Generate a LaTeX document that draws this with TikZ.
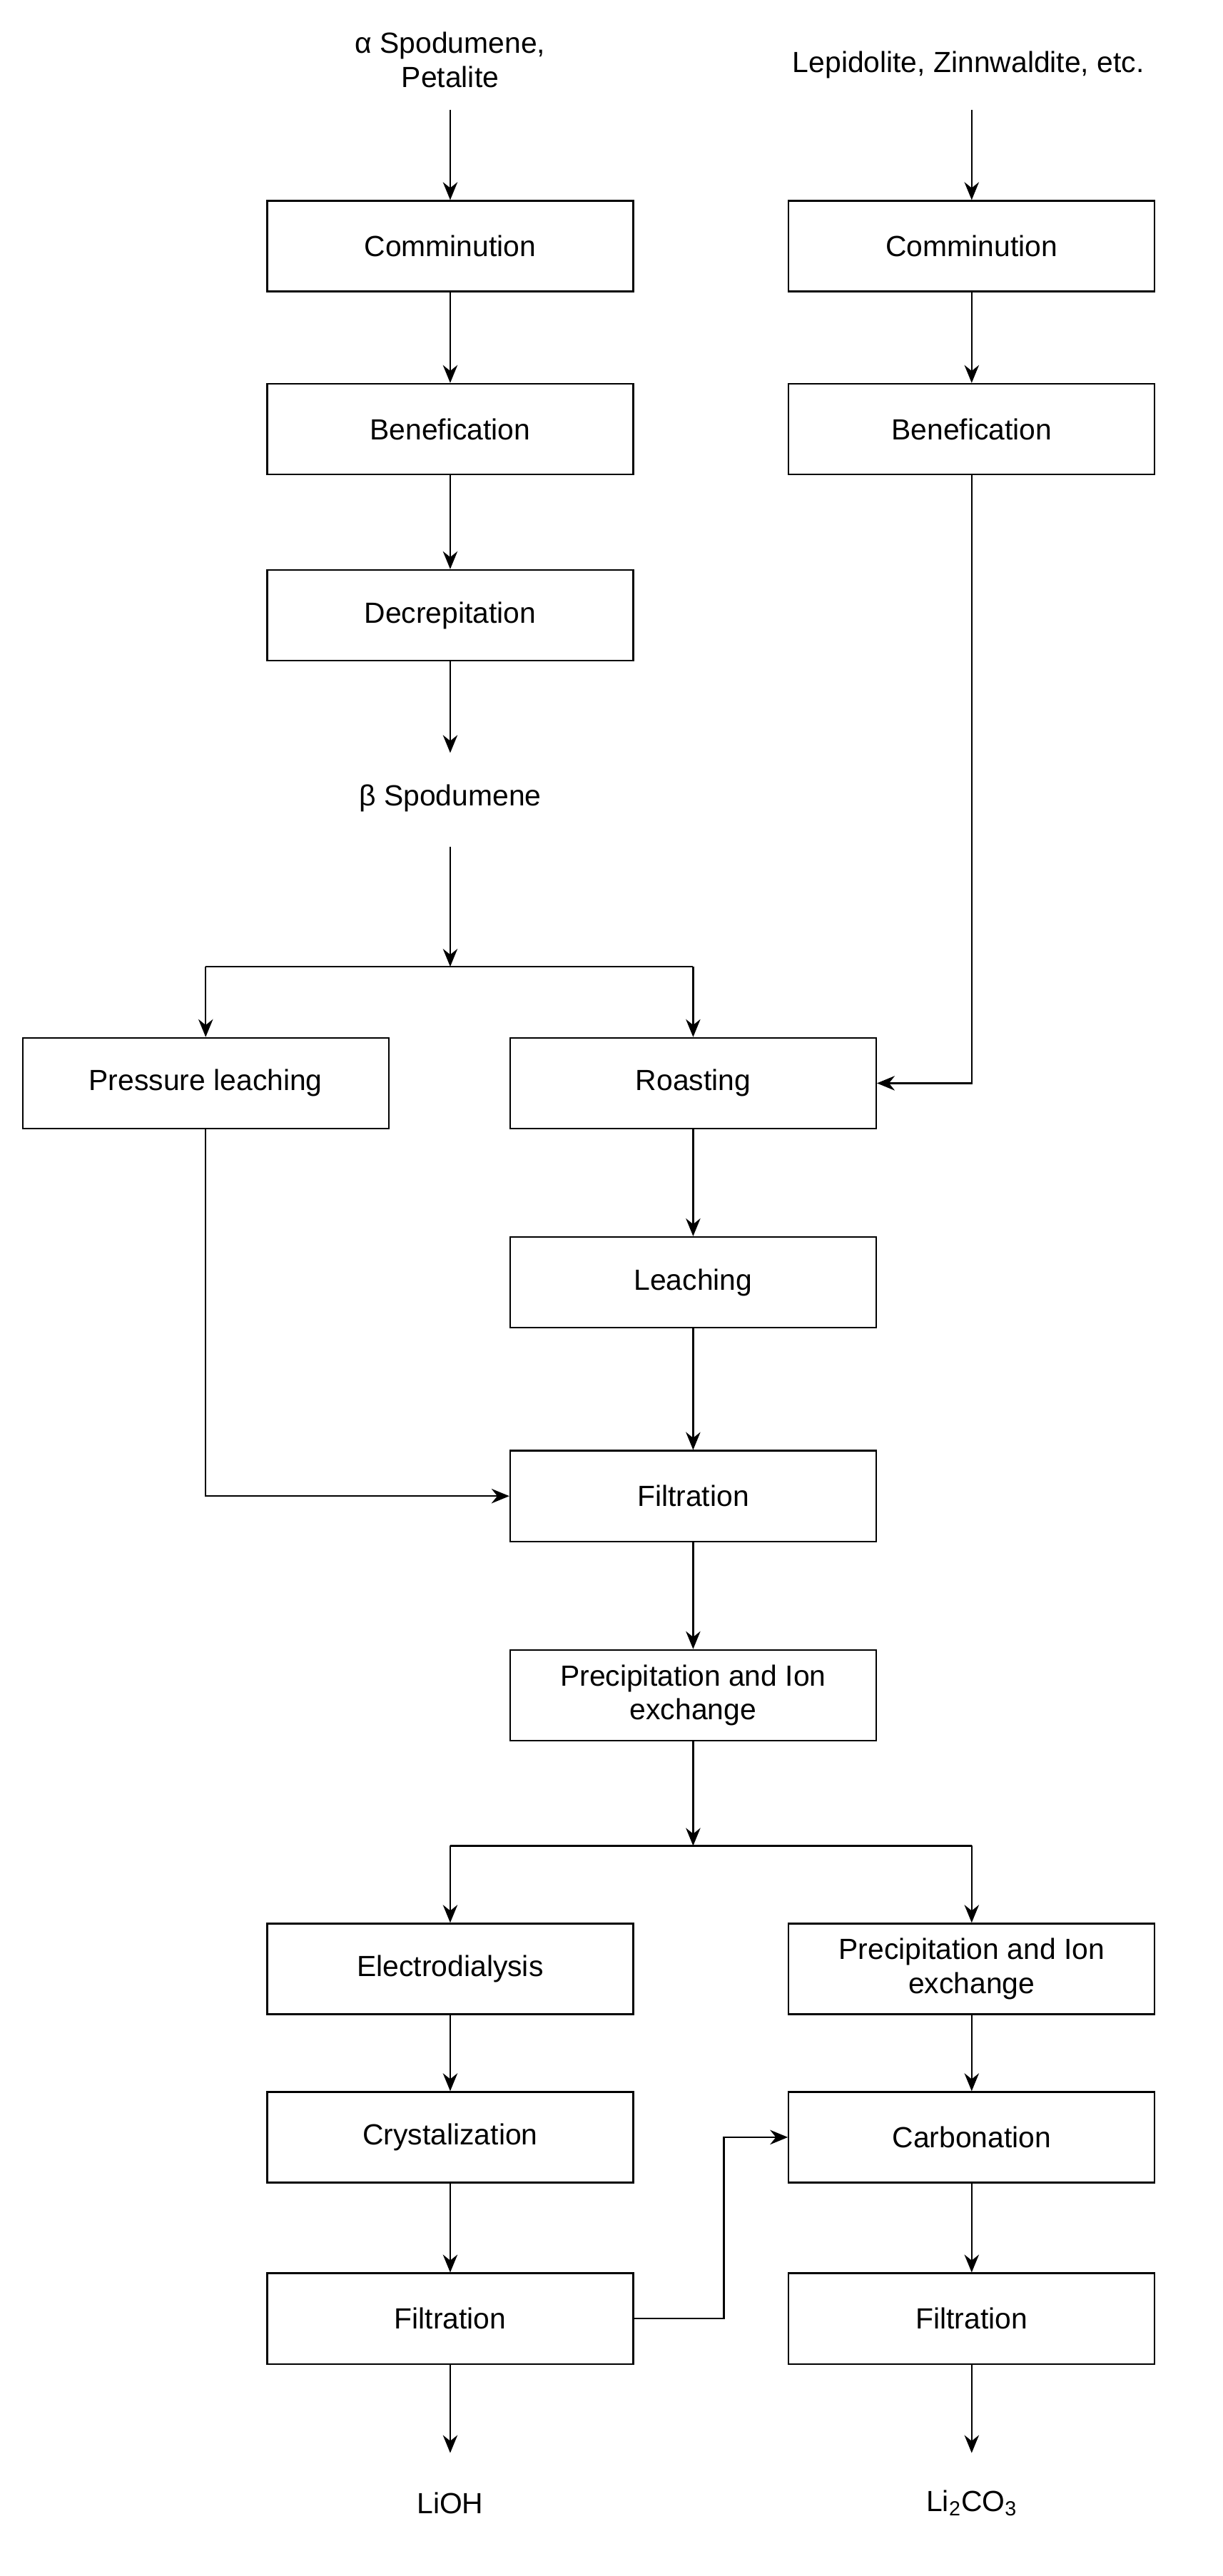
\documentclass[tikz,border=0pt]{standalone}
\usepackage{fontspec}
\setmainfont{Liberation Sans}
\usetikzlibrary{arrows.meta}
\begin{document}
\begin{tikzpicture}[x=1pt,y=-1pt,
 box/.style={draw,line width=1pt,minimum width=226pt,minimum height=56pt,font=\fontsize{18}{21}\selectfont,align=center,inner sep=2pt},
 lbl/.style={font=\fontsize{18}{21}\selectfont,align=center},
 ar/.style={-{Stealth[length=11pt,width=9pt]},line width=1pt}]
\useasboundingbox (0,0) rectangle (755,1591);
\node[lbl] (a) at (278,37) {α Spodumene,\\Petalite};
\node[lbl] (b) at (598,40) {Lepidolite, Zinnwaldite, etc.};
\node[box] (c1) at (278,152) {Comminution};
\node[box] (b1) at (278,265) {Benefication};
\node[box] (d1) at (278,380) {Decrepitation};
\node[box] (c2) at (600,152) {Comminution};
\node[box] (b2) at (600,265) {Benefication};
\node[lbl] (bs) at (278,493) {β Spodumene};
\coordinate (j1) at (278,597);
\node[box] (pl) at (127,669) {Pressure leaching};
\node[box] (ro) at (428,669) {Roasting};
\node[box] (le) at (428,792) {Leaching};
\node[box] (fi) at (428,924) {Filtration};
\node[box] (pi) at (428,1047) {Precipitation and Ion\\exchange};
\coordinate (j2) at (428,1140);
\node[box] (el) at (278,1216) {Electrodialysis};
\node[box] (p2) at (600,1216) {Precipitation and Ion\\exchange};
\node[box] (cr) at (278,1320) {Crystalization};
\node[box] (ca) at (600,1320) {Carbonation};
\node[box] (f1) at (278,1432) {Filtration};
\node[box] (f2) at (600,1432) {Filtration};
\node[lbl] (li) at (278,1546) {LiOH};
\node[lbl] (lc) at (600,1546) {Li\textsubscript{2}CO\textsubscript{3}};
\draw[ar] (278,68) -- (c1);
\draw[ar] (600,68) -- (c2);
\draw[ar] (c1) -- (b1);
\draw[ar] (b1) -- (d1);
\draw[ar] (c2) -- (b2);
\draw[ar] (d1) -- (278,465);
\draw[ar] (278,523) -- (j1);
\draw[line width=1pt] (127,597) -- (428,597);
\draw[ar] (127,597) -- (pl);
\draw[ar] (428,597) -- (ro);
\draw[ar] (b2.south) -- (600,669) -- (ro.east);
\draw[ar] (ro) -- (le);
\draw[ar] (le) -- (fi);
\draw[ar] (pl.south) -- (127,924) -- (fi.west);
\draw[ar] (fi) -- (pi);
\draw[ar] (pi) -- (j2);
\draw[line width=1pt] (278,1140) -- (600,1140);
\draw[ar] (278,1140) -- (el);
\draw[ar] (600,1140) -- (p2);
\draw[ar] (el) -- (cr);
\draw[ar] (cr) -- (f1);
\draw[ar] (p2) -- (ca);
\draw[ar] (ca) -- (f2);
\draw[ar] (f1.east) -- (447,1432) -- (447,1320) -- (ca.west);
\draw[ar] (f1) -- (278,1515);
\draw[ar] (f2) -- (600,1515);
\end{tikzpicture}
\end{document}
